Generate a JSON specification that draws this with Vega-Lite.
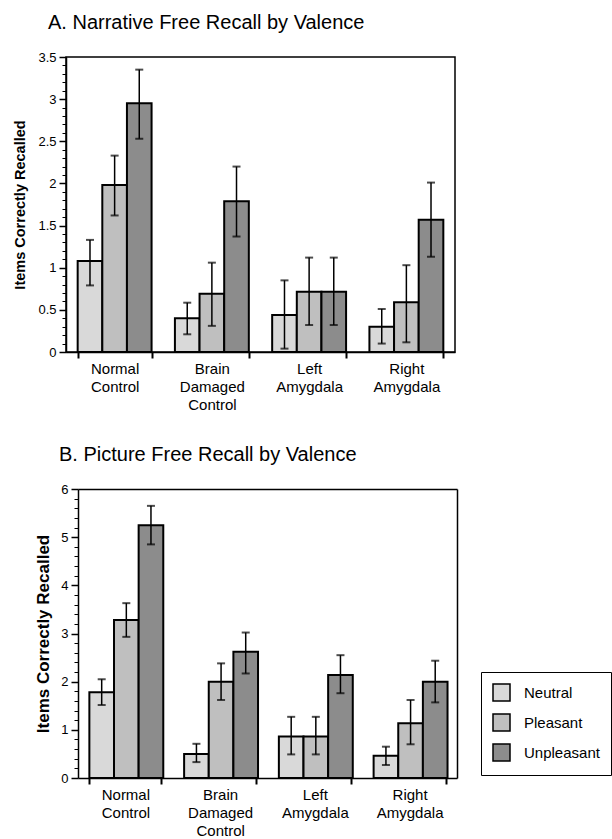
{
  "$schema": "https://vega.github.io/schema/vega-lite/v6.json",
  "padding": {"left": 12, "top": 12, "right": 0, "bottom": 0},
  "background": "white",
  "datasets": {
    "narrative": [
      {"group": "Normal Control", "valence": "Neutral", "mean": 1.08, "lo": 0.79, "hi": 1.33},
      {"group": "Normal Control", "valence": "Pleasant", "mean": 1.98, "lo": 1.62, "hi": 2.33},
      {"group": "Normal Control", "valence": "Unpleasant", "mean": 2.95, "lo": 2.53, "hi": 3.35},
      {"group": "Brain Damaged Control", "valence": "Neutral", "mean": 0.4, "lo": 0.21, "hi": 0.585},
      {"group": "Brain Damaged Control", "valence": "Pleasant", "mean": 0.69, "lo": 0.31, "hi": 1.06},
      {"group": "Brain Damaged Control", "valence": "Unpleasant", "mean": 1.79, "lo": 1.37, "hi": 2.2},
      {"group": "Left Amygdala", "valence": "Neutral", "mean": 0.44, "lo": 0.04, "hi": 0.85},
      {"group": "Left Amygdala", "valence": "Pleasant", "mean": 0.715, "lo": 0.32, "hi": 1.12},
      {"group": "Left Amygdala", "valence": "Unpleasant", "mean": 0.715, "lo": 0.32, "hi": 1.12},
      {"group": "Right Amygdala", "valence": "Neutral", "mean": 0.3, "lo": 0.1, "hi": 0.51},
      {"group": "Right Amygdala", "valence": "Pleasant", "mean": 0.59, "lo": 0.115, "hi": 1.03},
      {"group": "Right Amygdala", "valence": "Unpleasant", "mean": 1.57, "lo": 1.13, "hi": 2.01}
    ],
    "picture": [
      {"group": "Normal Control", "valence": "Neutral", "mean": 1.78, "lo": 1.515, "hi": 2.05},
      {"group": "Normal Control", "valence": "Pleasant", "mean": 3.28, "lo": 2.93, "hi": 3.63},
      {"group": "Normal Control", "valence": "Unpleasant", "mean": 5.25, "lo": 4.85, "hi": 5.65},
      {"group": "Brain Damaged Control", "valence": "Neutral", "mean": 0.5, "lo": 0.33, "hi": 0.71},
      {"group": "Brain Damaged Control", "valence": "Pleasant", "mean": 2.0, "lo": 1.62, "hi": 2.38},
      {"group": "Brain Damaged Control", "valence": "Unpleasant", "mean": 2.62, "lo": 2.17, "hi": 3.02},
      {"group": "Left Amygdala", "valence": "Neutral", "mean": 0.86, "lo": 0.49, "hi": 1.27},
      {"group": "Left Amygdala", "valence": "Pleasant", "mean": 0.86, "lo": 0.49, "hi": 1.27},
      {"group": "Left Amygdala", "valence": "Unpleasant", "mean": 2.14, "lo": 1.76, "hi": 2.55},
      {"group": "Right Amygdala", "valence": "Neutral", "mean": 0.46, "lo": 0.27, "hi": 0.65},
      {"group": "Right Amygdala", "valence": "Pleasant", "mean": 1.135, "lo": 0.7, "hi": 1.62},
      {"group": "Right Amygdala", "valence": "Unpleasant", "mean": 2.0, "lo": 1.57, "hi": 2.435}
    ]
  },
  "config": {
    "font": "Liberation Sans",
    "axis": {"labelColor": "black", "domainColor": "black", "tickColor": "black", "grid": false, "labelFont": "Liberation Sans", "titleFont": "Liberation Sans", "titleColor": "black"},
    "legend": {"labelFont": "Liberation Sans"}
  },
  "spacing": 32,
  "resolve": {"legend": {"color": "independent"}},
  "vconcat": [
    {
      "width": 389,
      "height": 295,
      "view": {"stroke": "black", "strokeWidth": 1.5},
      "title": {"text": "A. Narrative Free Recall by Valence", "anchor": "start", "frame": "group", "dx": -18, "fontSize": 20, "fontWeight": "normal", "font": "Liberation Sans", "color": "black", "baseline": "alphabetic", "offset": 2},
      "data": {"name": "narrative"},
      "resolve": {"axis": {"y": "independent"}},
      "layer": [
        {
          "mark": {"type": "bar", "stroke": "black", "strokeWidth": 2},
          "encoding": {
            "x": {"field": "group", "type": "nominal", "sort": ["Normal Control", "Brain Damaged Control", "Left Amygdala", "Right Amygdala"],
              "scale": {"paddingInner": 0.24, "paddingOuter": 0.12},
              "axis": {"title": null, "labelAngle": 0, "labelExpr": "split(datum.label, ' ')", "labelFontSize": 15, "labelLineHeight": 18, "labelBaseline": "top", "labelPadding": 3, "tickBand": "extent", "tickSize": 6, "tickWidth": 2, "domainWidth": 1.5}},
            "xOffset": {"field": "valence", "type": "nominal", "sort": ["Neutral", "Pleasant", "Unpleasant"], "scale": {"paddingInner": 0, "paddingOuter": 0}},
            "y": {"field": "mean", "type": "quantitative", "scale": {"domain": [0, 3.5], "nice": false},
              "axis": {"orient": "left", "title": "Items Correctly Recalled", "titleFontSize": 14.5, "titleFontWeight": "bold", "titlePadding": 10, "values": [0, 0.5, 1, 1.5, 2, 2.5, 3, 3.5], "format": "~g", "labelFontSize": 13, "labelPadding": 3, "tickSize": 7, "tickWidth": 1.5, "domainWidth": 1.5}},
            "color": {"field": "valence", "type": "nominal", "scale": {"domain": ["Neutral", "Pleasant", "Unpleasant"], "range": ["#d9d9d9", "#bfbfbf", "#8c8c8c"]}, "legend": null}
          }
        },
        {
          "mark": {"type": "rule", "color": "black", "strokeWidth": 1.5},
          "encoding": {
            "x": {"field": "group", "type": "nominal", "sort": ["Normal Control", "Brain Damaged Control", "Left Amygdala", "Right Amygdala"]},
            "xOffset": {"field": "valence", "type": "nominal", "sort": ["Neutral", "Pleasant", "Unpleasant"]},
            "y": {"field": "lo", "type": "quantitative", "axis": null},
            "y2": {"field": "hi"}
          }
        },
        {
          "mark": {"type": "tick", "color": "black", "thickness": 2, "size": 8, "orient": "horizontal"},
          "encoding": {
            "x": {"field": "group", "type": "nominal", "sort": ["Normal Control", "Brain Damaged Control", "Left Amygdala", "Right Amygdala"]},
            "xOffset": {"field": "valence", "type": "nominal", "sort": ["Neutral", "Pleasant", "Unpleasant"]},
            "y": {"field": "hi", "type": "quantitative",
              "axis": {"orient": "left", "title": null, "labels": false, "domain": false, "tickSize": 4, "tickWidth": 1, "values": [0.1, 0.2, 0.3, 0.4, 0.6, 0.7, 0.8, 0.9, 1.1, 1.2, 1.3, 1.4, 1.6, 1.7, 1.8, 1.9, 2.1, 2.2, 2.3, 2.4, 2.6, 2.7, 2.8, 2.9, 3.1, 3.2, 3.3, 3.4]}}
          }
        },
        {
          "mark": {"type": "tick", "color": "black", "thickness": 2, "size": 8, "orient": "horizontal"},
          "encoding": {
            "x": {"field": "group", "type": "nominal", "sort": ["Normal Control", "Brain Damaged Control", "Left Amygdala", "Right Amygdala"]},
            "xOffset": {"field": "valence", "type": "nominal", "sort": ["Neutral", "Pleasant", "Unpleasant"]},
            "y": {"field": "lo", "type": "quantitative", "axis": null}
          }
        }
      ]
    },
    {
      "width": 391,
      "height": 289,
      "view": {"stroke": null},
      "title": {"text": "B. Picture Free Recall by Valence", "anchor": "start", "frame": "group", "dx": -7, "fontSize": 20, "fontWeight": "normal", "font": "Liberation Sans", "color": "black", "baseline": "alphabetic", "offset": 2},
      "data": {"name": "picture"},
      "resolve": {"axis": {"x": "independent", "y": "independent"}},
      "layer": [
        {
          "mark": {"type": "bar", "stroke": "black", "strokeWidth": 2},
          "encoding": {
            "x": {"field": "group", "type": "nominal", "sort": ["Normal Control", "Brain Damaged Control", "Left Amygdala", "Right Amygdala"],
              "scale": {"paddingInner": 0.24, "paddingOuter": 0.12, "range": [12, 391]},
              "axis": {"orient": "bottom", "title": null, "labelAngle": 0, "labelExpr": "split(datum.label, ' ')", "labelFontSize": 15, "labelLineHeight": 18, "labelBaseline": "top", "labelPadding": 3, "tickBand": "extent", "tickSize": 6, "tickWidth": 2, "domainWidth": 1.5}},
            "xOffset": {"field": "valence", "type": "nominal", "sort": ["Neutral", "Pleasant", "Unpleasant"], "scale": {"paddingInner": 0, "paddingOuter": 0}},
            "y": {"field": "mean", "type": "quantitative", "scale": {"domain": [0, 6], "nice": false},
              "axis": {"orient": "left", "offset": -12, "title": "Items Correctly Recalled", "titleFontSize": 17, "titleFontWeight": "bold", "titlePadding": 8, "values": [0, 1, 2, 3, 4, 5, 6], "format": "~g", "labelFontSize": 13, "labelPadding": 3, "tickSize": 7, "tickWidth": 1.5, "domainWidth": 1.5}},
            "color": {"field": "valence", "type": "nominal", "scale": {"domain": ["Neutral", "Pleasant", "Unpleasant"], "range": ["#d9d9d9", "#bfbfbf", "#8c8c8c"]},
              "legend": {"title": null, "orient": "none", "legendX": 415, "legendY": 183, "padding": 11, "strokeColor": "black", "symbolType": "square", "symbolSize": 289, "symbolStrokeColor": "black", "symbolStrokeWidth": 1.5, "symbolOpacity": 1, "labelFontSize": 15, "labelColor": "black", "labelOffset": 13, "rowPadding": 7}}
          }
        },
        {
          "mark": {"type": "rule", "color": "black", "strokeWidth": 1.5},
          "encoding": {
            "x": {"field": "group", "type": "nominal", "sort": ["Normal Control", "Brain Damaged Control", "Left Amygdala", "Right Amygdala"],
              "axis": {"orient": "top", "title": null, "labels": false, "ticks": false, "domainWidth": 1.5}},
            "xOffset": {"field": "valence", "type": "nominal", "sort": ["Neutral", "Pleasant", "Unpleasant"]},
            "y": {"field": "lo", "type": "quantitative", "axis": {"orient": "right", "title": null, "labels": false, "ticks": false, "domainWidth": 1.5}},
            "y2": {"field": "hi"}
          }
        },
        {
          "mark": {"type": "tick", "color": "black", "thickness": 2, "size": 8, "orient": "horizontal"},
          "encoding": {
            "x": {"field": "group", "type": "nominal", "sort": ["Normal Control", "Brain Damaged Control", "Left Amygdala", "Right Amygdala"], "axis": null},
            "xOffset": {"field": "valence", "type": "nominal", "sort": ["Neutral", "Pleasant", "Unpleasant"]},
            "y": {"field": "hi", "type": "quantitative",
              "axis": {"orient": "left", "offset": -12, "title": null, "labels": false, "domain": false, "tickSize": 4, "tickWidth": 1, "values": [0.2, 0.4, 0.6, 0.8, 1.2, 1.4, 1.6, 1.8, 2.2, 2.4, 2.6, 2.8, 3.2, 3.4, 3.6, 3.8, 4.2, 4.4, 4.6, 4.8, 5.2, 5.4, 5.6, 5.8]}}
          }
        },
        {
          "mark": {"type": "tick", "color": "black", "thickness": 2, "size": 8, "orient": "horizontal"},
          "encoding": {
            "x": {"field": "group", "type": "nominal", "sort": ["Normal Control", "Brain Damaged Control", "Left Amygdala", "Right Amygdala"], "axis": null},
            "xOffset": {"field": "valence", "type": "nominal", "sort": ["Neutral", "Pleasant", "Unpleasant"]},
            "y": {"field": "lo", "type": "quantitative", "axis": null}
          }
        }
      ]
    }
  ]
}
